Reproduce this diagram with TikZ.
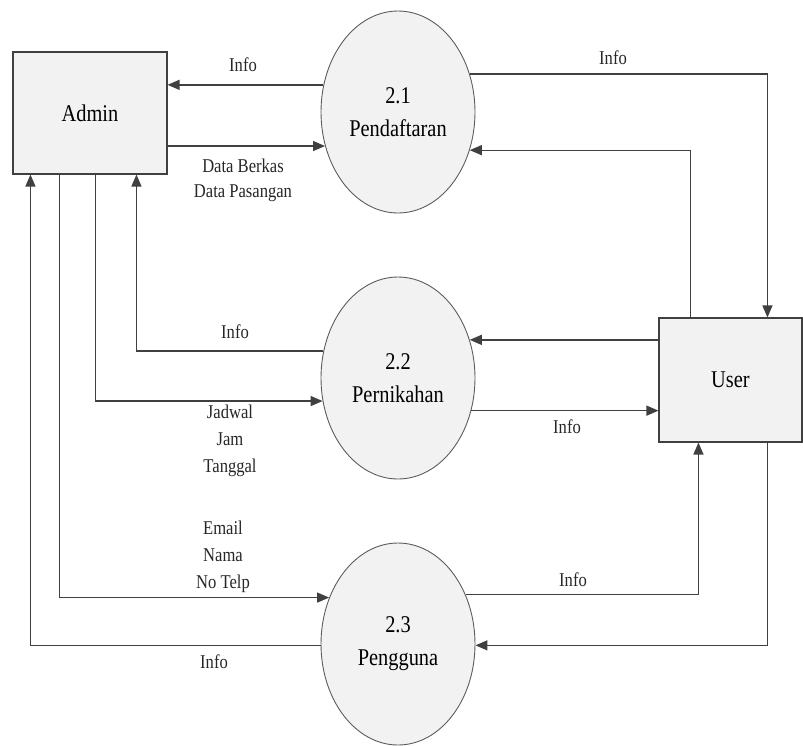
\documentclass[tikz,border=0pt]{standalone}
\usepackage{fontspec}
\setmainfont{Liberation Serif}[FakeStretch=0.85]
\usetikzlibrary{shapes.geometric,arrows.meta,calc}
\definecolor{linec}{HTML}{404040}
\definecolor{fillc}{HTML}{F2F2F2}
\begin{document}
\begin{tikzpicture}[x=1pt,y=-1pt,
  entity/.style={draw=linec,line width=1.1pt,fill=fillc,inner sep=0pt,
    font=\fontsize{24}{33}\selectfont},
  proc/.style={ellipse,draw=linec!85,line width=0.9pt,fill=fillc,inner sep=0pt,
    minimum width=154pt,minimum height=202pt,align=center,
    font=\fontsize{24}{33}\selectfont},
  flow/.style={draw=linec,line width=1.3pt,-{Triangle[length=12pt,width=10pt]}},
  lbl/.style={inner sep=0pt,align=center,font=\fontsize{19.5}{27}\selectfont,text=black!85}
]
\useasboundingbox (0,0) rectangle (803,745);

\node[entity,minimum width=154pt,minimum height=122pt] (admin) at (90,113) {Admin};
\node[entity,minimum width=143pt,minimum height=124pt] (user) at (730.5,380) {User};

\node[proc] (p1) at (398,112) {2.1\\Pendaftaran};
\node[proc] (p2) at (398,378) {2.2\\Pernikahan};
\node[proc] (p3) at (398,644) {2.3\\Pengguna};

% 2.1
\draw[flow] (p1.160.7) -- (p1.160.7 -| admin.east);
\draw[flow] (p1.205.9 -| admin.east) -- (p1.205.9);
\draw[flow] (p1.28.05) -| ([xshift=109pt]user.north west);
\draw[flow] ([xshift=32pt]user.north west) |- (p1.-28.8);

% 2.2
\draw[flow] (p2.160) -| ([xshift=124pt]admin.south west);
\draw[flow] ([xshift=83pt]admin.south west) |- (p2.197.8);
\draw[flow] (p2.28.8 -| user.west) -- (p2.28.8);
\draw[flow] (p2.-24.4) -- (p2.-24.4 -| user.west);

% 2.3
\draw[flow] ([xshift=47pt]admin.south west) |- (p3.146.2);
\draw[flow] (p3.181.5) -| ([xshift=18pt]admin.south west);
\draw[flow] (p3.36.1) -| ([xshift=40pt]user.south west);
\draw[flow] ([xshift=109pt]user.south west) |- (p3.-1.5);

% labels
\node[lbl] (l1) at (243,65) {Info};
\node[lbl,font=\fontsize{19.5}{25}\selectfont] (l2) at (243,180) {Data Berkas\\Data Pasangan};
\node[lbl] (l3) at (613,58) {Info};
\node[lbl] (l4) at (235,332) {Info};
\node[lbl] (l5) at (230,441) {Jadwal\\Jam\\Tanggal};
\node[lbl] (l6) at (567,427) {Info};
\node[lbl] (l7) at (223,557) {Email\\Nama\\No Telp};
\node[lbl] (l8) at (573,580) {Info};
\node[lbl] (l9) at (214,662) {Info};
\end{tikzpicture}
\end{document}
